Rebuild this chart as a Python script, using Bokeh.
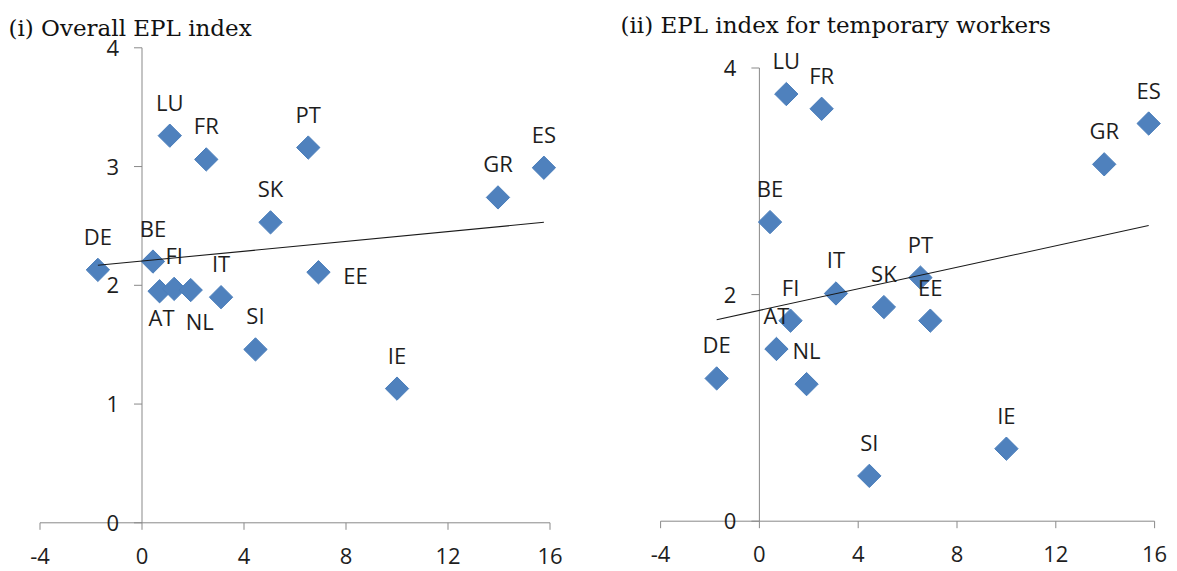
import numpy as np
from bokeh.plotting import figure
from bokeh.models import ColumnDataSource, Range1d
from bokeh.layouts import row
from bokeh.core.properties import value
from bokeh.embed import file_html
from bokeh.resources import INLINE

# ---------------- data ----------------
countries = ["DE", "BE", "AT", "FI", "NL", "LU", "FR", "IT", "SI", "SK", "PT", "EE", "IE", "GR", "ES"]
x_values = [-1.73, 0.43, 0.69, 1.26, 1.91, 1.09, 2.52, 3.10, 4.45, 5.04, 6.52, 6.92, 10.0, 13.96, 15.76]
epl_overall = [2.13, 2.20, 1.95, 1.97, 1.96, 3.26, 3.06, 1.90, 1.46, 2.53, 3.16, 2.11, 1.13, 2.74, 2.99]
epl_temporary = [1.26, 2.64, 1.52, 1.77, 1.21, 3.77, 3.64, 2.01, 0.40, 1.89, 2.15, 1.77, 0.64, 3.15, 3.51]

x_ticks = [-4, 0, 4, 8, 12, 16]
x_tick_labels = ["-4", "0", "4", "8", "12", "16"]
y_ticks_i = [0, 1, 2, 3, 4]
y_tick_labels_i = ["0", "1", "2", "3", "4"]
y_ticks_ii = [0, 2, 4]
y_tick_labels_ii = ["0", "2", "4"]

title_i = "(i) Overall EPL index"
title_ii = "(ii) EPL index for temporary workers"

# ---------------- style ----------------
AXIS_COLOR = "#898989"
TEXT_COLOR = "#1e1e1e"
MARK_FILL = "#4F81BD"
MARK_LINE = "#4A7EBB"
LABEL_FONT = value("Open Sans")
TITLE_FONT = value("DejaVu Serif")
H = 571

# label placement (screen px offsets); default is above the marker
offsets_i = {"AT": (2, 26), "NL": (9, 31), "EE": (37, 3)}
offsets_ii = {}
DEFAULT_OFFSET = (0, -34)


def make_panel(title, yvals, yticks, yticklabels, width, x0_px, px_x, y0_px, px_y,
               offsets, title_dy, title_dx):
    # ranges derived from pixel scale (frame == whole canvas)
    xs = -x0_px / px_x
    xe = xs + width / px_x
    ye = y0_px / px_y
    ys = ye - H / px_y
    p = figure(width=width, height=H, x_range=Range1d(xs, xe), y_range=Range1d(ys, ye),
               output_backend="svg", toolbar_location=None,
               x_axis_location=None, y_axis_location=None,
               min_border=0, min_border_left=0, min_border_right=0,
               min_border_top=0, min_border_bottom=0)
    p.grid.visible = False
    p.outline_line_color = None
    p.background_fill_color = "white"
    p.border_fill_color = "white"

    tick_y = 7 / px_y
    tick_x = 8 / px_x

    # axes
    p.segment(x0=[x_ticks[0]], y0=[0], x1=[x_ticks[-1]], y1=[0], line_color=AXIS_COLOR, line_width=1)
    p.segment(x0=[0], y0=[yticks[0]], x1=[0], y1=[yticks[-1]], line_color=AXIS_COLOR, line_width=1)
    p.segment(x0=x_ticks, y0=[0] * len(x_ticks), x1=x_ticks, y1=[-tick_y] * len(x_ticks),
              line_color=AXIS_COLOR, line_width=1)
    p.segment(x0=[0] * len(yticks), y0=yticks, x1=[-tick_x] * len(yticks), y1=yticks,
              line_color=AXIS_COLOR, line_width=1)
    p.text(x=x_ticks, y=[0] * len(x_ticks), text=x_tick_labels, y_offset=33,
           text_align="center", text_baseline="middle", text_font=LABEL_FONT,
           text_font_size="22px", text_color=TEXT_COLOR)
    p.text(x=[0] * len(yticks), y=yticks, text=yticklabels, x_offset=-23,
           text_align="right", text_baseline="middle", text_font=LABEL_FONT,
           text_font_size="22px", text_color=TEXT_COLOR)

    # points
    src = ColumnDataSource(dict(
        x=x_values, y=yvals, name=countries,
        dx=[offsets.get(c, DEFAULT_OFFSET)[0] for c in countries],
        dy=[offsets.get(c, DEFAULT_OFFSET)[1] for c in countries],
    ))
    p.scatter("x", "y", source=src, marker="square", size=16.5, angle=np.pi / 4,
              fill_color=MARK_FILL, line_color=MARK_LINE, line_width=1)
    p.text("x", "y", text="name", x_offset="dx", y_offset="dy", source=src,
           text_align="center", text_baseline="middle", text_font=LABEL_FONT,
           text_font_size="22px", text_color=TEXT_COLOR)

    # linear trend
    slope, intercept = np.polyfit(x_values, yvals, 1)
    tx = [min(x_values), max(x_values)]
    ty = [intercept + slope * v for v in tx]
    p.line(tx, ty, line_color="#1a1a1a", line_width=1.1)

    # title
    p.text(x=[xs], y=[ye], text=[title], x_offset=title_dx, y_offset=title_dy,
           text_align="left", text_baseline="alphabetic", text_font=TITLE_FONT,
           text_font_size="23px", text_color="#111111")
    return p


p1 = make_panel(title_i, epl_overall, y_ticks_i, y_tick_labels_i, 590,
                x0_px=141.5, px_x=25.5, y0_px=522.3, px_y=118.75,
                offsets=offsets_i, title_dy=27, title_dx=8)
p2 = make_panel(title_ii, epl_temporary, y_ticks_ii, y_tick_labels_ii, 587,
                x0_px=758.9 - 590, px_x=24.7, y0_px=520.7, px_y=113.3,
                offsets=offsets_ii, title_dy=24, title_dx=30)

layout = row(p1, p2)
open("out.html", "w").write(file_html(layout, INLINE))
